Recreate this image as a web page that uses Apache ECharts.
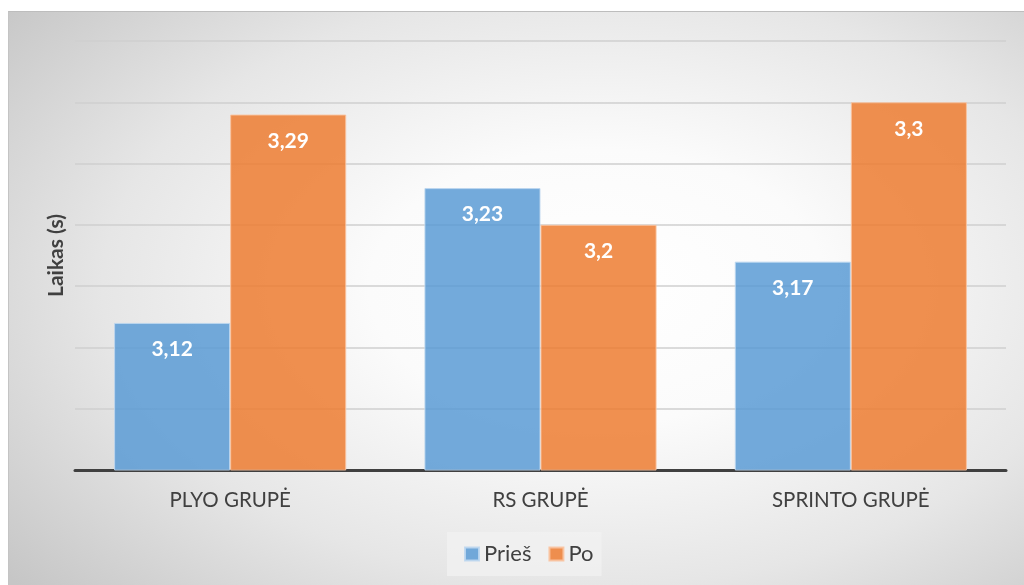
<!DOCTYPE html>
<html>
<head>
<meta charset="utf-8">
<script src="https://cdn.jsdelivr.net/npm/echarts@6/dist/echarts.min.js"></script>
<style>
  html, body { margin: 0; padding: 0; background: #ffffff; }
  #frame {
    position: absolute; left: 8px; top: 11px; width: 1016px; height: 574px;
    border-top: 1px solid #bdbdbd; border-left: 1px solid #c4c4c4; box-sizing: border-box;
    background: radial-gradient(ellipse 75% 80% at 58% 48%, #ffffff 0%, #fbfbfb 30%, #e6e6e6 65%, #c6c6c6 100%);
  }
  #chart { width: 100%; height: 100%; }
</style>
</head>
<body>
<div id="frame"><div id="chart"></div></div>
<script>
// Sprint time per training group, before and after
const categories = ['PLYO GRUPĖ', 'RS GRUPĖ', 'SPRINTO GRUPĖ'];
const before = [3.12, 3.23, 3.17];
const after = [3.29, 3.2, 3.3];
const seriesNames = ['Prieš', 'Po'];

const font = 'Lato';
const chart = echarts.init(document.getElementById('chart'), null, { renderer: 'canvas' });

const valueLabel = {
  show: true,
  position: 'insideTop',
  distance: 16,
  color: '#ffffff',
  fontFamily: font,
  fontWeight: 'bold',
  fontSize: 21,
  formatter: p => String(p.value).replace('.', ',')
};

chart.setOption({
  animation: false,
  grid: { left: 66, right: 18, top: 29, bottom: 115 },
  legend: {
    data: seriesNames,
    left: 438,
    top: 520,
    padding: [11, 8, 11, 17],
    itemGap: 17,
    itemWidth: 14,
    itemHeight: 13,
    icon: 'rect',
    backgroundColor: 'rgba(242,242,242,0.75)',
    textStyle: { fontSize: 22, color: '#404040', fontFamily: font }
  },
  xAxis: {
    type: 'category',
    data: categories,
    axisLine: { lineStyle: { color: '#404040', width: 3 } },
    axisTick: { show: false },
    axisLabel: { color: '#404040', fontSize: 20.5, fontFamily: font, margin: 20 }
  },
  yAxis: {
    type: 'value',
    min: 3.0,
    max: 3.35,
    interval: 0.05,
    name: 'Laikas (s)',
    nameLocation: 'middle',
    nameGap: 8,
    nameTextStyle: { color: '#404040', fontSize: 21, fontWeight: 'bold', fontFamily: font },
    axisLabel: { show: false },
    axisLine: { show: false },
    axisTick: { show: false },
    splitLine: { lineStyle: { color: '#cfcfcf', width: 1.5 } }
  },
  series: [
    {
      name: seriesNames[0],
      type: 'bar',
      data: before,
      barWidth: '37.4%',
      barGap: '0%',
      itemStyle: { color: 'rgba(91,155,213,0.85)', borderColor: 'rgba(190,215,240,0.9)', borderWidth: 1 },
      label: valueLabel
    },
    {
      name: seriesNames[1],
      type: 'bar',
      data: after,
      barWidth: '37.4%',
      itemStyle: { color: 'rgba(237,125,49,0.85)', borderColor: 'rgba(250,195,160,0.9)', borderWidth: 1 },
      label: valueLabel
    }
  ]
});
</script>
</body>
</html>
